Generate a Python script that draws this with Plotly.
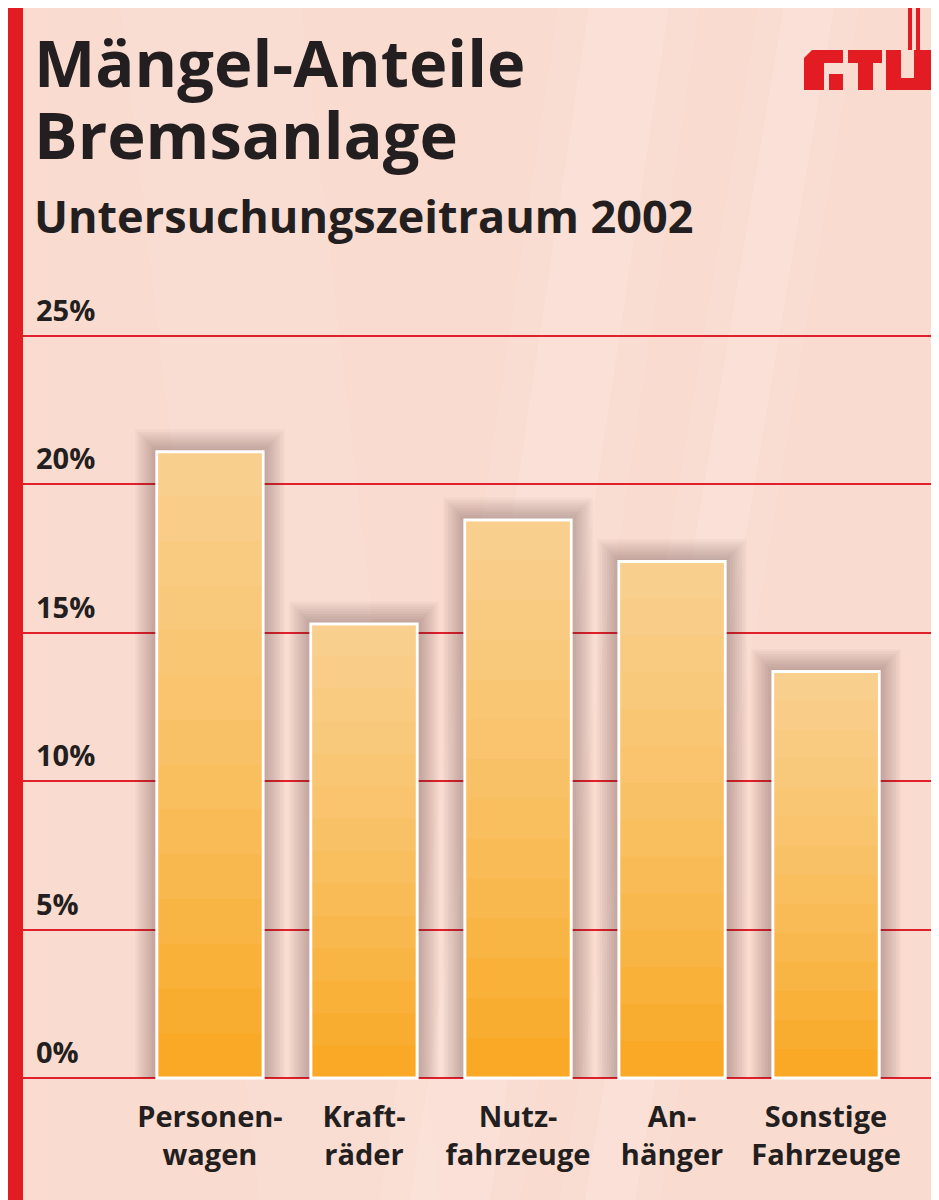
import plotly.graph_objects as go

# data
categories = ["Personen-<br>wagen", "Kraft-<br>räder", "Nutz-<br>fahrzeuge", "An-<br>hänger", "Sonstige<br>Fahrzeuge"]
shares = [21.1, 15.3, 18.8, 17.4, 13.7]
tick_vals = [0, 5, 10, 15, 20, 25]
tick_text = ["0%", "5%", "10%", "15%", "20%", "25%"]

# the page adds an 8px body margin, so the figure is a bit smaller than the window
OFF = 8
W, H = 931, 1192
L, R, T, B = 15, 7, 282, 110
PW, PH = W - L - R, H - T - B
BAR_W = 0.69


def px(x):
    # reference pixel x -> paper x
    return (x - OFF - L) / PW


def py(y):
    # reference pixel y -> paper y
    return (H - B - (y - OFF)) / PH


RED = "#e31b23"
INK = "#231f20"
FONT = "Open Sans"

fig = go.Figure()

# blurred shadow behind the bars, faked with stacked translucent layers
n_shadow = 9
for i in range(n_shadow, 0, -1):
    f = i / n_shadow
    fig.add_trace(go.Bar(
        x=categories, y=[v + 0.75 * f for v in shares], width=BAR_W + 0.28 * f,
        marker=dict(color="rgba(85,60,60,0.038)", line=dict(width=0)),
        hoverinfo="skip", showlegend=False,
    ))

fig.add_trace(go.Bar(
    x=categories, y=shares, width=BAR_W,
    marker=dict(color="#f9a925", line=dict(color="white", width=3)),
    showlegend=False,
))

# light-to-orange shading inside each bar: thin white veils stacked towards the top
n_veil = 14
for k in range(1, n_veil):
    fig.add_trace(go.Bar(
        x=categories, y=[v * (1 - k / n_veil) for v in shares],
        base=[v * k / n_veil for v in shares], width=BAR_W - 0.02,
        marker=dict(color="rgba(255,255,255,0.05)", line=dict(width=0)),
        hoverinfo="skip", showlegend=False,
    ))


def band(x0a, x0b, x1a, x1b, alpha):
    return dict(type="path", xref="paper", yref="paper", layer="below", line_width=0,
                fillcolor=f"rgba(255,255,255,{alpha})",
                path=f"M {px(x0a)},{py(0)} L {px(x0b)},{py(0)} L {px(x1b)},{py(1200)} L {px(x1a)},{py(1200)} Z")


shapes = [
    # soft light streaks in the background
    band(560, 700, 380, 520, 0.08), band(590, 670, 410, 490, 0.10),
    band(760, 860, 560, 660, 0.08), band(785, 835, 585, 635, 0.10),
    band(120, 300, 260, 440, 0.07),
    # red strip on the left
    dict(type="rect", xref="paper", yref="paper", x0=px(0), x1=px(23), y0=py(0), y1=py(1200),
         fillcolor=RED, line_width=0, layer="above"),
    # white edge on the right
    dict(type="rect", xref="paper", yref="paper", x0=px(932), x1=px(940), y0=py(0), y1=py(1200),
         fillcolor="white", line_width=0, layer="above"),
    # logo
    dict(type="path", xref="paper", yref="paper", layer="above", line_width=0, fillcolor=RED,
         path=f"M {px(812)},{py(50)} L {px(843)},{py(50)} L {px(843)},{py(63)} L {px(824)},{py(63)} "
              f"L {px(824)},{py(90)} L {px(804)},{py(90)} L {px(804)},{py(58)} Z"),
    dict(type="rect", xref="paper", yref="paper", layer="above", line_width=0, fillcolor=RED,
         x0=px(829), x1=px(843), y0=py(74), y1=py(90)),
    dict(type="path", xref="paper", yref="paper", layer="above", line_width=0, fillcolor=RED,
         path=f"M {px(848)},{py(50)} L {px(882)},{py(50)} L {px(882)},{py(63)} L {px(873)},{py(63)} "
              f"L {px(873)},{py(90)} L {px(858)},{py(90)} L {px(858)},{py(63)} L {px(848)},{py(63)} Z"),
    dict(type="path", xref="paper", yref="paper", layer="above", line_width=0, fillcolor=RED,
         path=f"M {px(886)},{py(50)} L {px(901)},{py(50)} L {px(901)},{py(78)} L {px(914)},{py(78)} "
              f"L {px(914)},{py(50)} L {px(931)},{py(50)} L {px(931)},{py(90)} L {px(886)},{py(90)} Z"),
    dict(type="rect", xref="paper", yref="paper", layer="above", line_width=0, fillcolor=RED,
         x0=px(908), x1=px(912), y0=py(3), y1=py(50)),
    dict(type="rect", xref="paper", yref="paper", layer="above", line_width=0, fillcolor=RED,
         x0=px(916), x1=px(920), y0=py(3), y1=py(50)),
]

big = "<span style='font-size:65px'><b>{}</b></span>"
annotations = [
    dict(text=big.format("Mängel-Anteile") + "<br>" + big.format("Bremsanlage"),
         x=px(32), y=py(16), xanchor="left", yanchor="top", align="left",
         font=dict(family=FONT, size=55, color=INK)),
    dict(text="<b>Untersuchungszeitraum 2002</b>", x=px(32), y=py(183), xanchor="left", yanchor="top",
         font=dict(family=FONT, size=45, color=INK)),
]
for v, t in zip(tick_vals, tick_text):
    annotations.append(dict(text=f"<b>{t}</b>", x=px(34), xref="paper", y=v, yref="y",
                            xanchor="left", yanchor="bottom", yshift=5, showarrow=False,
                            font=dict(family=FONT, size=29, color=INK)))
for a in annotations:
    a.setdefault("xref", "paper")
    a.setdefault("yref", "paper")
    a.setdefault("showarrow", False)

fig.update_layout(
    width=W, height=H,
    margin=dict(l=L, r=R, t=T, b=B),
    paper_bgcolor="#fadbcf",
    plot_bgcolor="rgba(0,0,0,0)",
    barmode="overlay",
    shapes=shapes,
    annotations=annotations,
    xaxis=dict(
        range=[-1.214, 4.688],
        showgrid=False, zeroline=False, showline=False, ticks="",
        tickfont=dict(family=FONT, size=29, color=INK, weight="bold"),
        ticklabelstandoff=7,
    ),
    yaxis=dict(
        range=[-0.404, 26.55],
        tickvals=tick_vals, showticklabels=False,
        showgrid=True, gridcolor="#e0202a", gridwidth=2,
        zeroline=False, showline=False, ticks="",
    ),
    font=dict(family=FONT, color=INK),
)

fig.write_html("out.html")
